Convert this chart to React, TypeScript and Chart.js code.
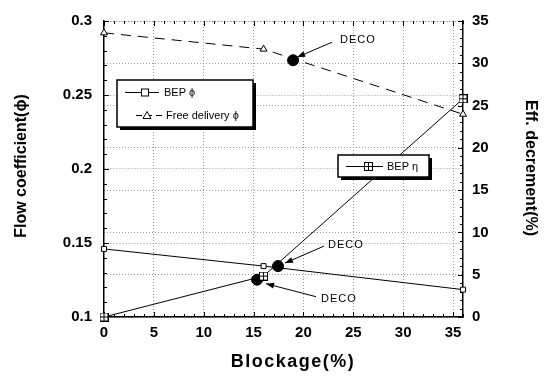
import React, { useEffect, useRef } from "react";
import { Chart, registerables } from "chart.js";

Chart.register(...registerables);

// ---- data ----
const blockage = [0, 16, 36];
const bepPhi = [0.146, 0.1344, 0.1185];
const freeDeliveryPhi = [0.292, 0.281, 0.237];
const bepEta = [0, 4.84, 25.8];
const decoBlockage = [18.96, 17.45, 15.35];
const decoPhi = [0.2735, 0.1344, 0.1252];
const decoLabels = ["DECO", "DECO", "DECO"];

const leftTitle = "Flow coefficient(\u03d5)";
const rightTitle = "Eff. decrement(%)";
const bottomTitle = "Blockage(%)";
const legendA = ["BEP \u03d5", "Free delivery \u03d5"];
const legendB = ["BEP \u03b7"];

function makeCrossSquare(): HTMLCanvasElement {
  const c = document.createElement("canvas");
  c.width = 9;
  c.height = 9;
  const g = c.getContext("2d")!;
  g.fillStyle = "#fff";
  g.fillRect(0.5, 0.5, 8, 8);
  g.strokeStyle = "#000";
  g.lineWidth = 1;
  g.strokeRect(0.5, 0.5, 8, 8);
  g.beginPath();
  g.moveTo(4.5, 0.5);
  g.lineTo(4.5, 8.5);
  g.moveTo(0.5, 4.5);
  g.lineTo(8.5, 4.5);
  g.stroke();
  return c;
}

const FONT = "Arial, 'Liberation Sans', sans-serif";

export default function App() {
  const ref = useRef<HTMLCanvasElement | null>(null);

  useEffect(() => {
    const canvas = ref.current!;
    const crossSq = makeCrossSquare();

    const drawMarker = (ctx: CanvasRenderingContext2D, kind: string, x: number, y: number) => {
      ctx.save();
      ctx.lineWidth = 1;
      ctx.strokeStyle = "#000";
      ctx.fillStyle = "#fff";
      if (kind === "rect") {
        ctx.fillRect(x - 3.5, y - 3.5, 7, 7);
        ctx.strokeRect(x - 3.5, y - 3.5, 7, 7);
      } else if (kind === "triangle") {
        ctx.beginPath();
        ctx.moveTo(x, y - 4);
        ctx.lineTo(x + 4, y + 3);
        ctx.lineTo(x - 4, y + 3);
        ctx.closePath();
        ctx.fill();
        ctx.stroke();
      } else {
        ctx.drawImage(crossSq, Math.round(x - 4.5), Math.round(y - 4.5));
      }
      ctx.restore();
    };

    const legendBox = (ctx: CanvasRenderingContext2D, x: number, y: number, w: number, h: number) => {
      ctx.save();
      ctx.fillStyle = "#000";
      ctx.fillRect(x + 3, y + 3, w, h);
      ctx.fillStyle = "#fff";
      ctx.fillRect(x, y, w, h);
      ctx.strokeStyle = "#000";
      ctx.lineWidth = 1.5;
      ctx.strokeRect(x, y, w, h);
      ctx.restore();
    };

    const extras = {
      id: "extras",
      beforeDatasetsDraw(chart: any) {
        const ctx = chart.ctx as CanvasRenderingContext2D;
        const sx = chart.scales.x;
        const sy = chart.scales.y;
        const sy1 = chart.scales.y1;
        const { left, right, top, bottom } = chart.chartArea;
        ctx.save();
        ctx.strokeStyle = "#000";
        ctx.lineWidth = 1;
        ctx.beginPath();
        for (let v = 0; v <= 36; v++) {
          const px = Math.round(sx.getPixelForValue(v)) + 0.5;
          const len = v % 5 === 0 ? 5 : 3;
          ctx.moveTo(px, bottom);
          ctx.lineTo(px, bottom - len);
          ctx.moveTo(px, top);
          ctx.lineTo(px, top + len);
        }
        for (let i = 0; i <= 20; i++) {
          const v = 0.1 + i * 0.01;
          const py = Math.round(sy.getPixelForValue(v)) + 0.5;
          const len = i % 5 === 0 ? 5 : 3;
          ctx.moveTo(left, py);
          ctx.lineTo(left + len, py);
        }
        for (let v = 0; v <= 35; v++) {
          const py = Math.round(sy1.getPixelForValue(v)) + 0.5;
          const len = v % 5 === 0 ? 5 : 3;
          ctx.moveTo(right, py);
          ctx.lineTo(right - len, py);
        }
        ctx.stroke();
        ctx.restore();
      },
      afterDraw(chart: any) {
        const ctx = chart.ctx as CanvasRenderingContext2D;
        const sx = chart.scales.x;
        const sy = chart.scales.y;

        // axis titles
        ctx.save();
        ctx.fillStyle = "#000";
        ctx.textAlign = "center";
        ctx.textBaseline = "middle";
        ctx.font = `bold 18px ${FONT}`;
        (ctx as any).letterSpacing = "1.5px";
        ctx.fillText(bottomTitle, 293, 362);
        (ctx as any).letterSpacing = "0px";
        ctx.font = `bold 16px ${FONT}`;
        ctx.save();
        ctx.translate(22, 166);
        ctx.rotate(-Math.PI / 2);
        ctx.fillText(leftTitle, 0, 0);
        ctx.restore();
        ctx.save();
        ctx.translate(530, 168);
        ctx.rotate(Math.PI / 2);
        ctx.fillText(rightTitle, 0, 0);
        ctx.restore();
        ctx.restore();

        // DECO annotations
        const offs = [
          { tip: [4, -3], start: [39, -18], text: [47, -20] },
          { tip: [7, -3], start: [46, -20], text: [50, -21] },
          { tip: [9, 4], start: [59, 17], text: [64, 19] },
        ];
        ctx.save();
        ctx.strokeStyle = "#000";
        ctx.fillStyle = "#000";
        ctx.lineWidth = 1;
        ctx.font = `11px ${FONT}`;
        (ctx as any).letterSpacing = "1px";
        ctx.textBaseline = "middle";
        ctx.textAlign = "left";
        decoBlockage.forEach((b, i) => {
          const px = sx.getPixelForValue(b);
          const py = sy.getPixelForValue(decoPhi[i]);
          const o = offs[i];
          const tx = px + o.tip[0], ty = py + o.tip[1];
          const s0 = px + o.start[0], s1 = py + o.start[1];
          ctx.beginPath();
          ctx.moveTo(s0, s1);
          ctx.lineTo(tx, ty);
          ctx.stroke();
          const ang = Math.atan2(ty - s1, tx - s0);
          const L = 8, W = 3;
          ctx.beginPath();
          ctx.moveTo(tx, ty);
          ctx.lineTo(tx - L * Math.cos(ang) + W * Math.sin(ang), ty - L * Math.sin(ang) - W * Math.cos(ang));
          ctx.lineTo(tx - L * Math.cos(ang) - W * Math.sin(ang), ty - L * Math.sin(ang) + W * Math.cos(ang));
          ctx.closePath();
          ctx.fill();
          ctx.fillText(decoLabels[i], px + o.text[0], py + o.text[1]);
        });
        (ctx as any).letterSpacing = "0px";
        ctx.restore();

        // legend 1
        ctx.save();
        legendBox(ctx, 117, 80, 136, 47);
        ctx.strokeStyle = "#000";
        ctx.lineWidth = 1;
        ctx.beginPath();
        ctx.moveTo(125, 92.5);
        ctx.lineTo(159, 92.5);
        ctx.stroke();
        drawMarker(ctx, "rect", 145, 92.5);
        ctx.setLineDash([6, 4]);
        ctx.beginPath();
        ctx.moveTo(136, 115.5);
        ctx.lineTo(162, 115.5);
        ctx.stroke();
        ctx.setLineDash([]);
        drawMarker(ctx, "triangle", 147, 115.5);
        ctx.fillStyle = "#000";
        ctx.font = `11px ${FONT}`;
        ctx.textBaseline = "middle";
        ctx.fillText(legendA[0], 164, 93);
        ctx.fillText(legendA[1], 166, 116);

        // legend 2
        legendBox(ctx, 338, 155, 91, 22);
        ctx.strokeStyle = "#000";
        ctx.beginPath();
        ctx.moveTo(346, 166.5);
        ctx.lineTo(383, 166.5);
        ctx.stroke();
        drawMarker(ctx, "cross", 368, 166.5);
        ctx.fillStyle = "#000";
        ctx.fillText(legendB[0], 387, 167);
        ctx.restore();
      },
    };

    const gridColor = "#9a9a9a";
    const tickFont = { family: FONT, size: 15, weight: "bold" as const };

    const chart = new Chart(canvas, {
      type: "line",
      data: {
        datasets: [
          {
            label: legendA[0],
            data: blockage.map((b, i) => ({ x: b, y: bepPhi[i] })),
            yAxisID: "y",
            borderColor: "#000",
            borderWidth: 1,
            pointStyle: "rect",
            pointRadius: 3.5,
            pointBackgroundColor: "#fff",
            pointBorderColor: "#000",
            pointBorderWidth: 1,
            tension: 0,
            clip: false,
          },
          {
            label: legendA[1],
            data: blockage.map((b, i) => ({ x: b, y: freeDeliveryPhi[i] })),
            yAxisID: "y",
            borderColor: "#000",
            borderWidth: 1,
            borderDash: [10, 7],
            pointStyle: "triangle",
            pointRadius: 4,
            pointBackgroundColor: "#fff",
            pointBorderColor: "#000",
            pointBorderWidth: 1,
            tension: 0,
            clip: false,
          },
          {
            label: legendB[0],
            data: blockage.map((b, i) => ({ x: b, y: bepEta[i] })),
            yAxisID: "y1",
            borderColor: "#000",
            borderWidth: 1,
            pointStyle: crossSq as any,
            pointRadius: 4,
            tension: 0,
            clip: false,
          },
          {
            label: "DECO",
            data: decoBlockage.map((b, i) => ({ x: b, y: decoPhi[i] })),
            yAxisID: "y",
            showLine: false,
            pointStyle: "circle",
            pointRadius: 5.5,
            pointBackgroundColor: "#000",
            pointBorderColor: "#000",
            clip: false,
          },
        ],
      },
      options: {
        responsive: false,
        animation: false,
        layout: { padding: { top: 15, left: 0, right: 0, bottom: 0 } },
        plugins: { legend: { display: false }, tooltip: { enabled: false } },
        scales: {
          x: {
            type: "linear",
            min: 0,
            max: 36,
            ticks: { stepSize: 5, includeBounds: false, font: tickFont, color: "#000", padding: 7, maxRotation: 0, autoSkip: false },
            afterFit: (s: any) => {
              s.height = 61;
            },
            grid: {
              drawTicks: false,
              color: (c: any) => (c.tick && c.tick.value === 0 ? "rgba(0,0,0,0)" : gridColor),
              lineWidth: 1,
            },
            border: { display: true, color: "#000", width: 1.5, dash: [1, 2] },
          },
          y: {
            type: "linear",
            position: "left",
            min: 0.1,
            max: 0.3,
            ticks: {
              stepSize: 0.05,
              font: tickFont,
              color: "#000",
              padding: 12,
              callback: (v: any) => String(Math.round(Number(v) * 100) / 100),
            },
            afterFit: (s: any) => {
              s.width = 104;
            },
            grid: { drawTicks: false, color: gridColor, lineWidth: 1 },
            border: { display: true, color: "#000", width: 1.5, dash: [1, 2] },
          },
          y1: {
            type: "linear",
            position: "right",
            min: 0,
            max: 35,
            ticks: { stepSize: 5, font: tickFont, color: "#000", padding: 9 },
            afterFit: (s: any) => {
              s.width = 85;
            },
            grid: { drawTicks: false, color: gridColor, lineWidth: 1 },
            border: { display: true, color: "#000", width: 1.5, dash: [1, 2] },
          },
        },
      },
      plugins: [extras],
    } as any);

    return () => chart.destroy();
  }, []);

  return (
    <div style={{ position: "fixed", left: 0, top: 0, width: 548, height: 378, background: "#fff" }}>
      <canvas ref={ref} width={548} height={378} />
    </div>
  );
}
